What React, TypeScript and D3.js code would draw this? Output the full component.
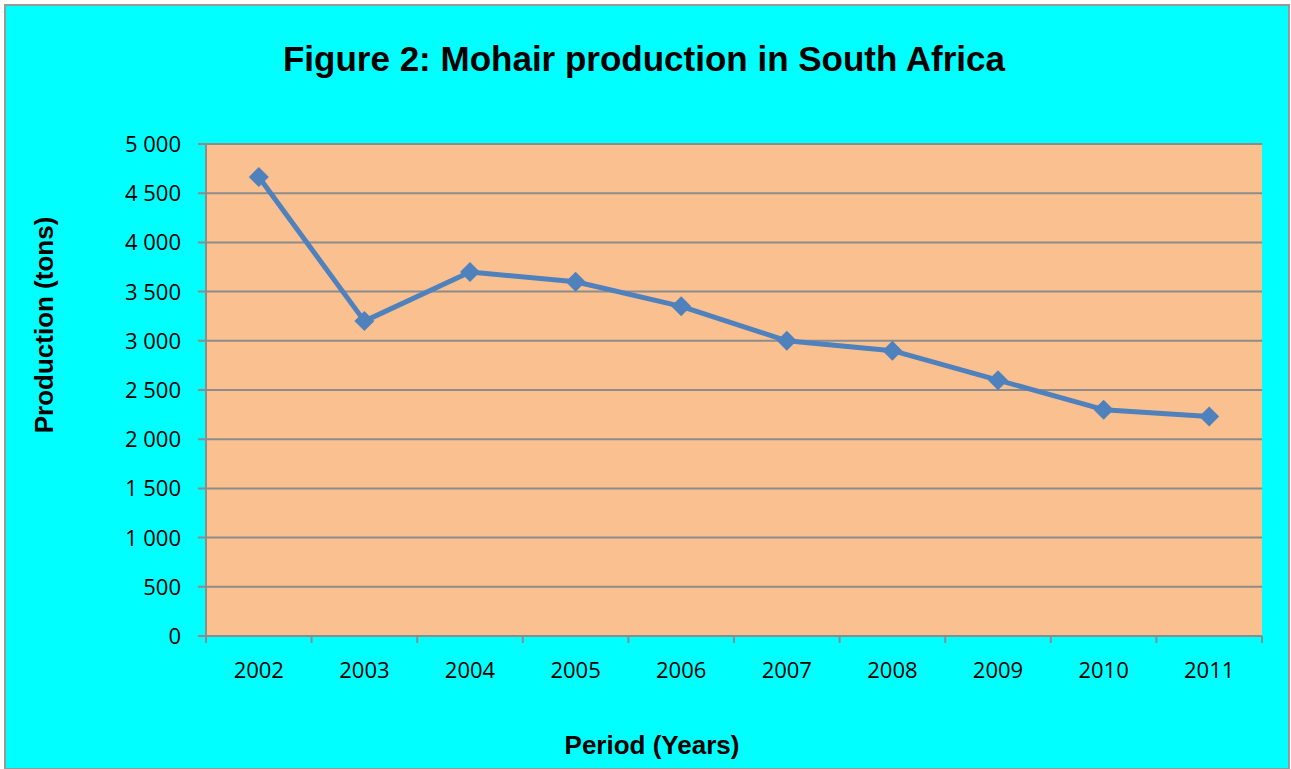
import React from "react";
import * as d3 from "d3";

const years = ["2002", "2003", "2004", "2005", "2006", "2007", "2008", "2009", "2010", "2011"];
const production = [4665, 3200, 3700, 3600, 3350, 3000, 2900, 2600, 2300, 2230];
const yTicks = [0, 500, 1000, 1500, 2000, 2500, 3000, 3500, 4000, 4500, 5000];

const W = 1291, H = 769;
const M = { left: 206, right: 1262, top: 144, bottom: 636 };

export default function App() {
  const x = d3.scaleBand().domain(years).range([M.left, M.right]);
  const y = d3.scaleLinear().domain([0, 5000]).range([M.bottom, M.top]);
  const line = d3
    .line<number>()
    .x((_, i) => (x(years[i]) as number) + x.bandwidth() / 2)
    .y((d) => y(d));
  const fmt = (v: number) => d3.format(",")(v).replace(/,/g, " ");
  const r = 10;
  const diamond = `M0,${-r}L${r},0L0,${r}L${-r},0Z`;
  const grid = "#8c8c8c";
  const tickFont = 22;
  return (
    <svg width={W} height={H} style={{ position: "absolute", left: 0, top: 0 }}>
      <rect x={0} y={0} width={W} height={H} fill="#ffffff" />
      <rect x={5} y={5} width={W - 7} height={H - 5} fill="#00ffff" stroke="#999999" strokeWidth={2} />
      <text x={644} y={71} textAnchor="middle" fontFamily="Liberation Sans, Arial, sans-serif" fontWeight="bold" fontSize={35}>
        Figure 2: Mohair production in South Africa
      </text>
      <rect x={M.left} y={M.top} width={M.right - M.left} height={M.bottom - M.top} fill="#fac090" />
      {yTicks.map((t) => (
        <g key={t}>
          <line x1={M.left - 8} x2={M.right} y1={y(t)} y2={y(t)} stroke={grid} strokeWidth={2} />
          <text x={181} y={y(t)} dy="0.36em" textAnchor="end" fontFamily="Open Sans, sans-serif" fontSize={tickFont}>
            {fmt(t)}
          </text>
        </g>
      ))}
      <line x1={M.left} x2={M.left} y1={M.top} y2={M.bottom + 7} stroke={grid} strokeWidth={2} />
      {years.map((yr) => (
        <g key={yr}>
          <line
            x1={(x(yr) as number) + x.bandwidth()}
            x2={(x(yr) as number) + x.bandwidth()}
            y1={M.bottom}
            y2={M.bottom + 7}
            stroke={grid}
            strokeWidth={2}
          />
          <text
            x={(x(yr) as number) + x.bandwidth() / 2}
            y={678}
            textAnchor="middle"
            fontFamily="Open Sans, sans-serif"
            fontSize={tickFont}
          >
            {yr}
          </text>
        </g>
      ))}
      <path d={line(production) as string} fill="none" stroke="#4f81bd" strokeWidth={5} strokeLinejoin="round" />
      {production.map((v, i) => (
        <path
          key={i}
          d={diamond}
          transform={`translate(${(x(years[i]) as number) + x.bandwidth() / 2},${y(v)})`}
          fill="#4f81bd"
        />
      ))}
      <text
        transform="translate(53,325) rotate(-90)"
        textAnchor="middle"
        fontFamily="Liberation Sans, Arial, sans-serif"
        fontWeight="bold"
        fontSize={26}
      >
        Production (tons)
      </text>
      <text x={652} y={754} textAnchor="middle" fontFamily="Liberation Sans, Arial, sans-serif" fontWeight="bold" fontSize={26}>
        Period (Years)
      </text>
    </svg>
  );
}
